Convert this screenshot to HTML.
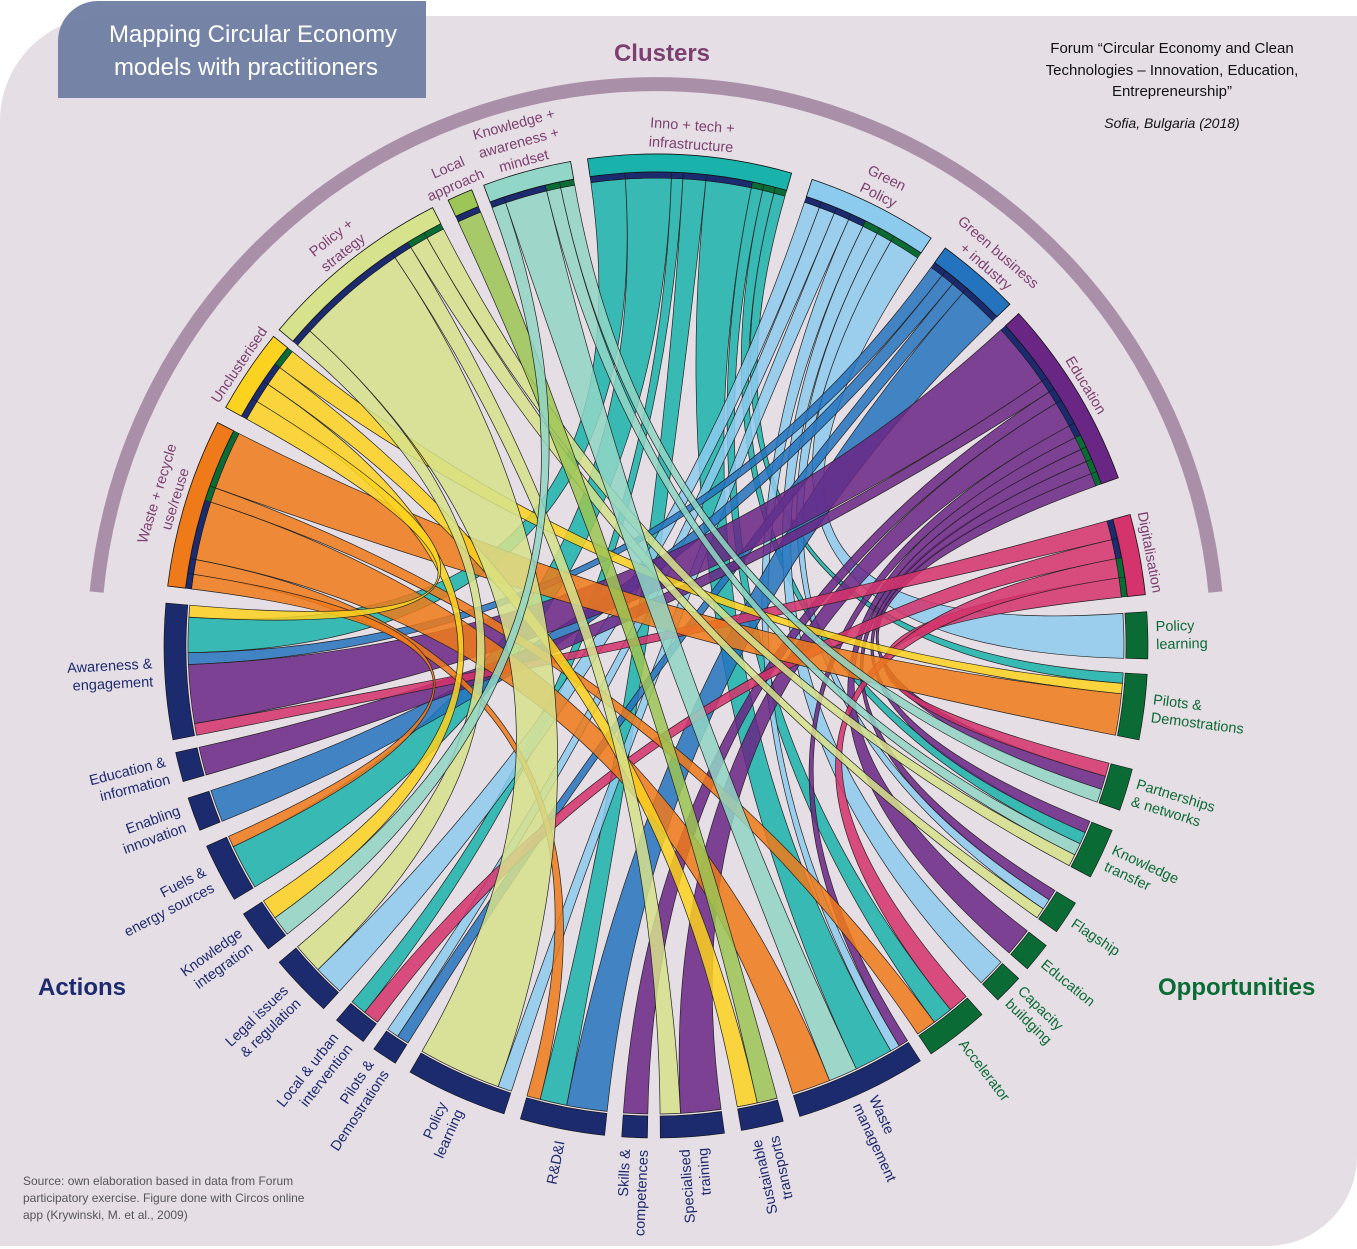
<!DOCTYPE html>
<html><head><meta charset="utf-8">
<style>
html,body{margin:0;padding:0;background:#fff;}
svg{display:block;}
text{font-family:"Liberation Sans",sans-serif;}
</style></head>
<body>
<svg id="s" width="1357" height="1249" viewBox="0 0 1357 1249" xmlns="http://www.w3.org/2000/svg">
<path d="M105 16 H1357 V1156 A90 90 0 0 1 1267 1246 H0 V121 A105 105 0 0 1 105 16 Z" fill="#e6dee5"/>
<path d="M98 1 H426 V98 H58 V41 A40 40 0 0 1 98 1 Z" fill="#6f7ea2" opacity="0.95"/>
<text x="253" y="42" fill="#fff" font-size="24" text-anchor="middle">Mapping Circular Economy</text>
<text x="246" y="75" fill="#fff" font-size="24" text-anchor="middle">models with practitioners</text>
<text x="662" y="61" fill="#7b3f70" font-size="24" font-weight="bold" text-anchor="middle">Clusters</text>
<text x="38" y="995" fill="#1c2a6e" font-size="24" font-weight="bold">Actions</text>
<text x="1158" y="995" fill="#0b6b35" font-size="24" font-weight="bold">Opportunities</text>
<g font-size="15" fill="#111" text-anchor="middle">
<text x="1172" y="53">Forum “Circular Economy and Clean</text>
<text x="1172" y="75">Technologies – Innovation, Education,</text>
<text x="1172" y="96">Entrepreneurship”</text>
<text x="1172" y="128" font-style="italic" font-size="14">Sofia, Bulgaria (2018)</text>
</g>
<g font-size="12" fill="#555">
<text x="23" y="1185">Source: own elaboration based in data from Forum</text>
<text x="23" y="1202">participatory exercise. Figure done with Circos online</text>
<text x="23" y="1219">app (Krywinski, M. et al., 2009)</text>
</g>
<path id="carc" fill="none" stroke="#a98fa8" stroke-width="14"/>
<g id="rib"></g>
<g id="seg"></g>
<g id="lab"></g>
</svg>
<script>
const cx=656,cy=646,NS="http://www.w3.org/2000/svg";
function P(r,a){const t=a*Math.PI/180;return [cx+r*Math.sin(t),cy-r*Math.cos(t)];}
function f(p){return p[0].toFixed(1)+" "+p[1].toFixed(1);}
function band(r1,r2,a1,a2){const la=(a2-a1)>180?1:0;
 return "M"+f(P(r2,a1))+" A"+r2+" "+r2+" 0 "+la+" 1 "+f(P(r2,a2))+" L"+f(P(r1,a2))+" A"+r1+" "+r1+" 0 "+la+" 0 "+f(P(r1,a1))+"Z";}
// clusters arc
(function(){const a=P(562,-84.5),b=P(562,84.5);document.getElementById("carc").setAttribute("d","M"+f(a)+" A562 562 0 0 1 "+f(b));})();
const S={
INNO:[-8,16,"#1ab3ab","c","Inno + tech +|infrastructure"],
GP:[18.5,34,"#8dcbee","c","Green|Policy"],
GB:[36,46,"#2473be","c","Green business|+ industry"],
EDU:[47.5,70,"#6a2685","c","Education"],
DIG:[74.5,84,"#d5336b","c","Digitalisation"],
WR:[277,297,"#ee7a1a","c","Waste + recycle|use/reuse"],
UNC:[299,309,"#fbd21f","c","Unclusterised"],
PS:[310,333,"#d6e28c","c","Policy +|strategy"],
LA:[335,338,"#9cc655","c","Local|approach"],
KA:[339.5,350,"#91d6c6","c","Knowledge +|awareness +|mindset"],
O_PL:[86,91.5,"#0b6b35","o","Policy|learning"],
O_PD:[93.3,101,"#0b6b35","o","Pilots &|Demostrations"],
O_PN:[104.5,109.5,"#0b6b35","o","Partnerships|& networks"],
O_KT:[112,118,"#0b6b35","o","Knowledge|transfer"],
O_FL:[121.5,125.5,"#0b6b35","o","Flagship"],
O_ED:[127.5,131,"#0b6b35","o","Education"],
O_CB:[132.5,136,"#0b6b35","o","Capacity|buildging"],
O_AC:[138.5,146,"#0b6b35","o","Accelerator"],
A_WM:[147.5,163,"#1c2a6e","ao","Waste|management"],
A_ST:[165,170,"#1c2a6e","a","Sustainable|transports"],
A_SP:[172,179.5,"#1c2a6e","a","Specialised|training"],
A_SK:[181,184,"#1c2a6e","a","Skills &|competences"],
A_RD:[186,196,"#1c2a6e","a","R&D&I"],
A_PL:[198,210,"#1c2a6e","a","Policy|learning"],
A_PD:[212,215,"#1c2a6e","a","Pilots &|Demostrations"],
A_LU:[216.5,220.5,"#1c2a6e","a","Local & urban|intervention"],
A_LI:[222.5,230,"#1c2a6e","a","Legal issues|& regulation"],
A_KI:[232,237,"#1c2a6e","a","Knowledge|integration"],
A_FU:[239,246,"#1c2a6e","a","Fuels &|energy sources"],
A_EI:[248,252,"#1c2a6e","a","Enabling|innovation"],
A_ED:[254,257.5,"#1c2a6e","a","Education &|information"],
A_AW:[259,275,"#1c2a6e","a","Awareness &|engagement"]
};
const R=[
["INNO","A_AW",3],["INNO","A_FU",4],["INNO","A_LU",1],["INNO","A_RD",2],["INNO","A_WM",4],["INNO","O_AC",1],["INNO","O_PD",1],["INNO","O_KT",1],
["GP","O_PL",2],["GP","O_FL",1],["GP","O_CB",1],["GP","A_PL",1],["GP","A_LI",1],["GP","A_WM",1],["GP","A_PD",1],
["GB","A_RD",3],["GB","A_EI",1],["GB","A_PD",1],["GB","A_AW",1],
["EDU","A_AW",5],["EDU","A_ED",1],["EDU","A_SP",2],["EDU","A_SK",1],["EDU","O_PN",1],["EDU","O_KT",1],["EDU","O_FL",1],["EDU","O_ED",1],["EDU","A_WM",1],
["DIG","A_AW",1],["DIG","A_LU",1],["DIG","O_PN",1],["DIG","O_AC",1],
["WR","O_PD",4],["WR","A_WM",4],["WR","O_AC",1],["WR","A_RD",1],["WR","A_FU",1],
["UNC","O_PD",1],["UNC","A_KI",1],["UNC","A_AW",1],["UNC","A_ST",1],
["PS","A_PL",6],["PS","O_KT",1],["PS","O_FL",1],["PS","A_SP",1],["PS","A_LI",1],
["LA","A_ST",1],
["KA","A_WM",3],["KA","A_KI",1],["KA","O_KT",1],["KA","O_PN",1]
];
const mid=k=>(S[k][0]+S[k][1])/2;
// allocation
const ends={};R.forEach((r,i)=>{[[r[0],r[1]],[r[1],r[0]]].forEach(([k,o])=>{(ends[k]=ends[k]||[]).push({i,o,w:r[2],isSrc:k===r[0]});});});
const alloc={};
for(const k in ends){const s=S[k],m=mid(k);const L=ends[k];
 L.sort((a,b)=>((mid(b.o)-m+720)%360)-((mid(a.o)-m+720)%360));
 const tot=L.reduce((x,y)=>x+y.w,0);let a=s[0];const span=s[1]-s[0];
 L.forEach(e=>{const d=span*e.w/tot;alloc[e.i+(e.isSrc?"s":"t")]=[a,a+d];a+=d;});}
let rib="",seg="",lab="";
const rr=468;
R.forEach((r,i)=>{const s=alloc[i+"s"],t=alloc[i+"t"];
 const d="M"+f(P(rr,s[0]))+" A"+rr+" "+rr+" 0 0 1 "+f(P(rr,s[1]))+" Q"+cx+" "+cy+" "+f(P(rr,t[0]))+" A"+rr+" "+rr+" 0 0 1 "+f(P(rr,t[1]))+" Q"+cx+" "+cy+" "+f(P(rr,s[0]))+"Z";
 rib+='<path d="'+d+'" fill="'+S[r[0]][2]+'" fill-opacity="0.85" stroke="#222" stroke-width="0.7"/>';
 // stripe on cluster
 const tc=S[r[1]][3]==="o"?"#0b6b35":"#1c2a6e";
 seg+='<path d="'+band(468,474,s[0],s[1])+'" fill="'+tc+'" stroke="#111" stroke-width="0.5"/>';
});
for(const k in S){const s=S[k];
 if(s[3]==="c") seg+='<path d="'+band(474,492,s[0],s[1])+'" fill="'+s[2]+'" stroke="#111" stroke-width="0.8"/>';
 else seg+='<path d="'+band(470,492,s[0],s[1])+'" fill="'+s[2]+'" stroke="#111" stroke-width="0.6"/>';
 const lines=s[4].split("|"),m=mid(k),t=m*Math.PI/180;
 if(s[3]==="c"){
  const n=lines.length;
  lines.forEach((ln,j)=>{const r=498+(n-1-j)*19;
   lab+='<text transform="translate('+cx+' '+cy+') rotate('+m+')" x="0" y="'+(-r)+'" text-anchor="middle" font-size="14.5" fill="#7b3f70">'+ln.replace(/&/g,"&amp;")+'</text>';});
 } else {
  const out=(s[3]==="o"||s[3]==="ao");
  const col=s[3]==="o"?"#0b6b35":"#1c2a6e";
  const rot=out?Math.atan2(-Math.cos(t),Math.sin(t))*180/Math.PI:Math.atan2(Math.cos(t),-Math.sin(t))*180/Math.PI;
  const p=P(out?500:504,m);const n=lines.length;
  lines.forEach((ln,j)=>{const y=(j-(n-1)/2)*18+5;
   lab+='<text transform="translate('+p[0].toFixed(1)+' '+p[1].toFixed(1)+') rotate('+rot.toFixed(1)+')" x="0" y="'+y+'" text-anchor="'+(out?"start":"end")+'" font-size="14.5" fill="'+col+'">'+ln.replace(/&/g,"&amp;")+'</text>';});
 }
}
document.getElementById("rib").innerHTML=rib;
document.getElementById("seg").innerHTML=seg;
document.getElementById("lab").innerHTML=lab;
</script>
</body></html>
